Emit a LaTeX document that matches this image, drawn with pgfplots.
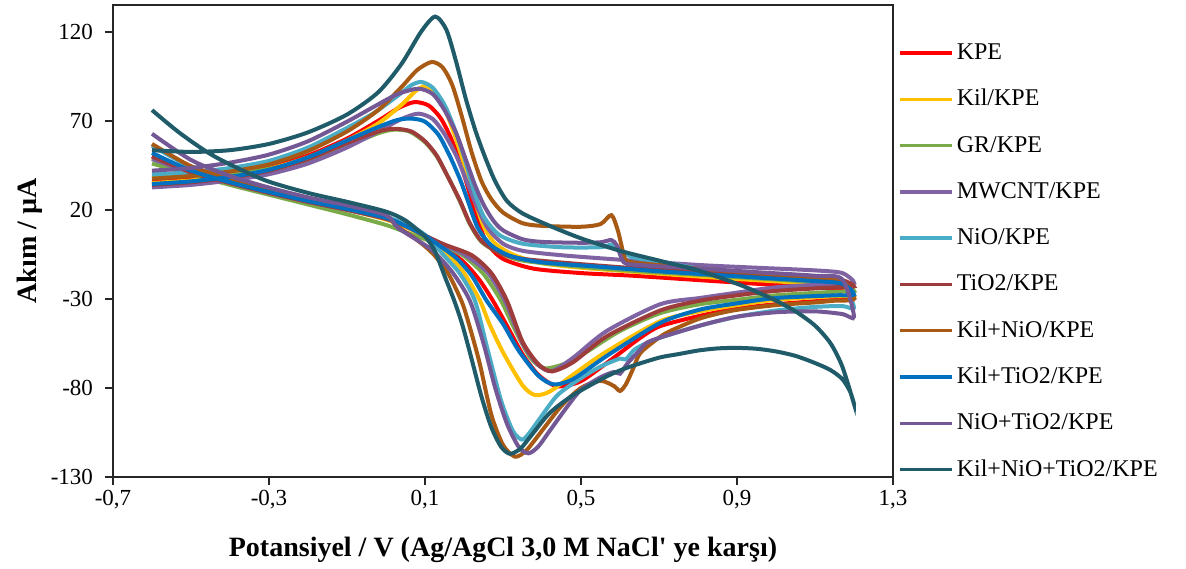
\documentclass[border=0pt]{standalone}
\usepackage{fontspec}
\setmainfont{Liberation Serif}
\usepackage{pgfplots}
\pgfplotsset{compat=1.18}
\definecolor{cKPE}{HTML}{FF0000}
\definecolor{cKil}{HTML}{FFC000}
\definecolor{cGR}{HTML}{7AAB48}
\definecolor{cMW}{HTML}{7F63A2}
\definecolor{cNiO}{HTML}{4BACC6}
\definecolor{cTiO}{HTML}{9E3B3B}
\definecolor{cKN}{HTML}{A85A15}
\definecolor{cKT}{HTML}{0070C0}
\definecolor{cNT}{HTML}{735895}
\definecolor{cKNT}{HTML}{1F5B69}
\begin{document}
\begin{tikzpicture}
\path[use as bounding box] (-56.5pt,-45.5pt) rectangle (536.5pt,238.5pt);
\begin{axis}[
  scale only axis, width=390pt, height=236pt,
  xmin=-0.7, xmax=1.3, ymin=-130, ymax=135,
  xtick={-0.7,-0.3,0.1,0.5,0.9,1.3},
  xticklabels={{-0,7},{-0,3},{0,1},{0,5},{0,9},{1,3}},
  ytick={-130,-80,-30,20,70,120},
  yticklabels={-130,-80,-30,20,70,120},
  tick align=outside, tick pos=left,
  major tick length=4pt,
  axis line style={black!85, line width=0.8pt},
  every tick/.style={black!85, line width=0.8pt},
  tick label style={font=\fontsize{11.5}{13}\selectfont},
  xticklabel style={yshift=1pt},
  yticklabel style={xshift=-2.5pt},
  every axis y label/.style={at={(axis description cs:-0.107,0.5)}, rotate=90, anchor=center},
  every axis x label/.style={at={(axis description cs:0.5,0)}, anchor=center, yshift=-36.5pt},
  label style={font=\fontsize{14}{16}\selectfont\bfseries},
  xlabel={Potansiyel / V (Ag/AgCl 3,0 M NaCl\textquotesingle\ ye karşı)},
  ylabel={Akım / µA},
  legend style={at={(1.0064,0.9216)}, anchor=north west, draw=none, fill=none, inner sep=0pt,
    font=\fontsize{12}{14}\selectfont, row sep=12.65pt,
    nodes={inner sep=0pt, text height=8.5pt, text depth=2pt}},
  legend cell align=left,
  legend image code/.code={\draw[#1, line width=1.7pt] (0pt,0pt) -- (26pt,0pt);},
  /tikz/every odd column/.append style={column sep=1.5pt},
  every axis plot/.append style={line width=2pt, smooth, tension=0.45},
]
% KPE
\addplot[cKPE] coordinates {
(-0.6,36) (-0.5,37.5) (-0.4,40) (-0.3,44) (-0.2,50.5) (-0.1,60) (-0.02,70) (0.035,77.5) (0.074,80.5) (0.11,78.5) (0.14,71.5) (0.165,61) (0.19,47) (0.212,31) (0.235,14) (0.26,1) (0.3,-7.5) (0.378,-13) (0.5,-15.5) (0.633,-17) (0.805,-19.5) (0.95,-21.5) (1.1,-23.5) (1.17,-25) (1.2,-29.5)
(1.15,-30.5) (1.0,-33) (0.9,-35.5) (0.805,-39.5) (0.703,-45.3) (0.651,-52) (0.566,-66) (0.497,-76.5) (0.437,-79) (0.39,-72.5) (0.35,-61) (0.31,-45) (0.274,-31) (0.24,-19.5) (0.2,-9.5) (0.15,-1) (0.1,5.5) (0.05,10.5) (0,15) (-0.1,20.5) (-0.2,25) (-0.3,30) (-0.4,35.5) (-0.5,42) (-0.6,50)};
\addlegendentry{KPE}
% Kil
\addplot[cKil] coordinates {
(-0.6,35) (-0.5,36.5) (-0.4,39) (-0.3,43) (-0.2,49.5) (-0.1,59) (-0.02,68.5) (0.04,79) (0.075,86.5) (0.1,89.5) (0.125,86.5) (0.15,77) (0.172,64.5) (0.194,50) (0.212,37) (0.228,25) (0.25,11) (0.28,1) (0.33,-5.5) (0.4,-10) (0.5,-12.5) (0.65,-15) (0.805,-17.5) (0.95,-19.5) (1.1,-21.5) (1.17,-23) (1.2,-28)
(1.15,-28.5) (1.0,-30.5) (0.9,-33.5) (0.805,-37) (0.703,-42.5) (0.566,-59.5) (0.48,-72.5) (0.42,-82) (0.382,-84) (0.35,-78.5) (0.3,-60) (0.265,-44) (0.241,-31) (0.2,-15.5) (0.15,-3) (0.1,5) (0.05,10.5) (0,14.5) (-0.1,20) (-0.2,24.5) (-0.3,29.5) (-0.4,35) (-0.5,41.5) (-0.6,49)};
\addlegendentry{Kil/KPE}
% GR
\addplot[cGR] coordinates {
(-0.6,39.5) (-0.5,39.5) (-0.4,40.5) (-0.3,43) (-0.2,48) (-0.1,56) (-0.02,63) (0.02,65) (0.06,64) (0.1,58) (0.13,50) (0.16,38) (0.19,24.5) (0.215,12) (0.245,2) (0.29,-4) (0.35,-8.5) (0.5,-12) (0.65,-14.5) (0.805,-16.5) (0.95,-18.5) (1.1,-20.5) (1.17,-22) (1.2,-25.5)
(1.15,-26) (1.0,-28) (0.9,-30.5) (0.805,-33) (0.703,-38) (0.6,-48) (0.52,-59) (0.47,-65.5) (0.408,-69) (0.37,-63) (0.33,-47) (0.295,-31) (0.25,-16) (0.2,-6) (0.15,-0.5) (0.1,3.5) (0.05,7.5) (0,11.5) (-0.1,17.5) (-0.2,23) (-0.3,28.5) (-0.4,34) (-0.5,40) (-0.6,46)};
\addlegendentry{GR/KPE}
% MWCNT
\addplot[cMW] coordinates {
(-0.6,32.6) (-0.5,34) (-0.4,36.5) (-0.3,40) (-0.2,46) (-0.1,55) (-0.02,64) (0.04,71) (0.083,74) (0.12,71) (0.15,62.5) (0.181,50) (0.205,37) (0.23,23.5) (0.26,10) (0.3,1) (0.35,-3) (0.45,-5.5) (0.6,-8) (0.805,-11) (0.95,-12.5) (1.1,-14) (1.17,-15.5) (1.2,-21)
(1.15,-21.5) (1.0,-23.5) (0.9,-26.5) (0.805,-29.5) (0.703,-33) (0.566,-48) (0.48,-63) (0.425,-70.5) (0.39,-67) (0.35,-55) (0.305,-31) (0.26,-15) (0.2,-5) (0.15,0) (0.1,5.5) (0.05,11) (0,15) (-0.1,20) (-0.2,24.5) (-0.3,29.5) (-0.4,35) (-0.5,41) (-0.6,48.5)};
\addlegendentry{MWCNT/KPE}
% NiO
\addplot[cNiO] coordinates {
(-0.6,40) (-0.5,41) (-0.4,43.5) (-0.3,47.5) (-0.2,55) (-0.1,66) (-0.03,74.5) (0.03,84) (0.065,90) (0.091,91.8) (0.12,88.5) (0.15,79) (0.175,66) (0.2,50) (0.225,31) (0.25,16.5) (0.29,6) (0.35,1) (0.45,-1) (0.55,-1) (0.578,0.5) (0.6,-2) (0.63,-6.5) (0.7,-9) (0.805,-13) (0.95,-16) (1.1,-19) (1.17,-21) (1.2,-35)
(1.17,-34) (1.1,-34.5) (1.0,-36.5) (0.9,-40) (0.805,-45) (0.7,-52) (0.64,-58) (0.615,-64) (0.6,-63.5) (0.55,-68) (0.5,-74.5) (0.44,-84) (0.395,-97) (0.365,-106) (0.348,-109) (0.325,-104) (0.295,-87) (0.26,-58) (0.228,-31) (0.19,-16) (0.15,-6) (0.1,6) (0.05,12) (0,16) (-0.1,21.5) (-0.2,26) (-0.3,31) (-0.4,37) (-0.5,44) (-0.6,56)};
\addlegendentry{NiO/KPE}
% TiO2
\addplot[cTiO] coordinates {
(-0.6,34) (-0.5,35.5) (-0.4,38) (-0.3,42) (-0.2,48.5) (-0.1,57.5) (-0.02,64) (0.023,65.5) (0.065,64) (0.1,58.5) (0.13,50.5) (0.16,38) (0.19,25) (0.215,12.5) (0.245,2.5) (0.29,-4) (0.35,-7.5) (0.5,-10.5) (0.65,-13) (0.805,-15) (0.95,-17) (1.1,-18.5) (1.17,-19.5) (1.2,-23)
(1.15,-23.5) (1.0,-25.5) (0.9,-28) (0.805,-31) (0.703,-36.5) (0.566,-51) (0.48,-65.5) (0.425,-70.7) (0.39,-66.5) (0.35,-54) (0.31,-31) (0.27,-15.5) (0.22,-5.5) (0.15,0.5) (0.1,5.5) (0.05,11) (0,15) (-0.1,20) (-0.2,24.5) (-0.3,29.5) (-0.4,35) (-0.5,41) (-0.6,50)};
\addlegendentry{TiO2/KPE}
% Kil+NiO
\addplot[cKN] coordinates {
(-0.6,37.5) (-0.5,39) (-0.4,41.5) (-0.3,45.5) (-0.2,53) (-0.1,64) (-0.02,76) (0.04,89) (0.08,98.5) (0.117,103) (0.145,100) (0.17,90) (0.195,72) (0.22,52) (0.245,36) (0.27,26) (0.3,18.5) (0.35,12.5) (0.4,11) (0.5,10.5) (0.55,12) (0.578,17) (0.595,8) (0.613,-7.5) (0.633,-9.5) (0.7,-11) (0.805,-13) (0.95,-15.5) (1.1,-18) (1.17,-20) (1.2,-30)
(1.15,-31) (1.1,-32) (1.0,-33.5) (0.89,-36.5) (0.805,-41) (0.72,-49) (0.677,-55.6) (0.65,-61) (0.634,-69) (0.615,-78) (0.6,-81.7) (0.585,-79) (0.55,-76) (0.5,-80) (0.45,-90) (0.4,-104) (0.36,-115) (0.331,-118.6) (0.3,-112) (0.27,-95) (0.24,-66) (0.215,-46) (0.195,-32) (0.16,-16) (0.12,-4.5) (0.08,3) (0.03,10.5) (0,16) (-0.1,22) (-0.2,26.5) (-0.3,31.5) (-0.4,37.5) (-0.5,44.5) (-0.6,57)};
\addlegendentry{Kil+NiO/KPE}
% Kil+TiO2
\addplot[cKT] coordinates {
(-0.6,34.5) (-0.5,36) (-0.4,38.5) (-0.3,42.5) (-0.2,49.5) (-0.1,59) (-0.02,66.5) (0.03,70.5) (0.066,71.2) (0.1,69.5) (0.135,62) (0.164,50) (0.19,37) (0.21,25) (0.235,10) (0.27,0) (0.32,-6) (0.4,-9.5) (0.55,-12) (0.7,-14.5) (0.805,-16) (0.95,-18) (1.1,-20) (1.17,-21.5) (1.2,-27.6)
(1.15,-28) (1.0,-29.5) (0.9,-32.5) (0.805,-36) (0.703,-43.5) (0.566,-62) (0.48,-75) (0.43,-78) (0.39,-73) (0.34,-59) (0.3,-44) (0.258,-31) (0.22,-17) (0.18,-7) (0.13,1) (0.1,5.5) (0.05,11) (0,15.5) (-0.1,20.5) (-0.2,25) (-0.3,30) (-0.4,35.5) (-0.5,42) (-0.6,52)};
\addlegendentry{Kil+TiO2/KPE}
% NiO+TiO2
\addplot[cNT] coordinates {
(-0.6,42) (-0.5,43.5) (-0.4,46.5) (-0.3,51) (-0.2,58.5) (-0.1,69.5) (-0.03,78) (0.03,85) (0.083,88) (0.12,85) (0.15,76) (0.18,63) (0.205,48) (0.228,34) (0.25,23) (0.275,14) (0.3,8.5) (0.35,3.5) (0.4,2) (0.5,1.5) (0.55,1.8) (0.578,3) (0.592,0) (0.61,-9.5) (0.65,-11) (0.805,-13) (0.95,-15) (1.1,-17) (1.17,-19) (1.2,-40)
(1.17,-38.5) (1.1,-37) (1.0,-37.5) (0.9,-40) (0.805,-45) (0.677,-53.7) (0.65,-59) (0.62,-66) (0.6,-72) (0.585,-71) (0.55,-74) (0.5,-81) (0.463,-91) (0.42,-104) (0.39,-113) (0.365,-116.7) (0.34,-113) (0.31,-100) (0.28,-80) (0.25,-55) (0.215,-31) (0.17,-15) (0.12,-3) (0.08,3) (0.03,10) (0,17) (-0.1,22.5) (-0.2,27) (-0.3,32.5) (-0.4,39) (-0.5,48) (-0.6,62.7)};
\addlegendentry{NiO+TiO2/KPE}
% Kil+NiO+TiO2
\addplot[cKNT] coordinates {
(-0.6,53.5) (-0.5,52.5) (-0.4,53.5) (-0.3,57) (-0.2,63.5) (-0.1,73.5) (-0.02,86) (0.04,102) (0.09,120) (0.126,128.5) (0.155,121) (0.18,103) (0.205,82) (0.23,64) (0.255,49) (0.28,36) (0.31,25) (0.35,18) (0.42,11) (0.5,4) (0.6,-3) (0.7,-8.5) (0.8,-14) (0.9,-21.5) (0.95,-26) (1.0,-31) (1.05,-37) (1.1,-45) (1.14,-55) (1.17,-68) (1.2,-89)
(1.19,-82) (1.17,-75) (1.14,-70) (1.1,-66) (1.05,-62) (1.0,-59.5) (0.95,-58) (0.9,-57.5) (0.85,-57.8) (0.8,-59) (0.75,-61) (0.7,-63) (0.62,-68.5) (0.566,-73.5) (0.48,-84) (0.42,-94) (0.375,-106) (0.345,-114) (0.318,-117) (0.295,-113) (0.27,-102) (0.245,-85) (0.215,-60) (0.195,-44) (0.175,-31) (0.15,-17) (0.125,-3) (0.1,5) (0.05,14) (0,19) (-0.1,24.5) (-0.2,29.5) (-0.315,37) (-0.44,50) (-0.528,63) (-0.6,76)};
\addlegendentry{Kil+NiO+TiO2/KPE}
\end{axis}
\end{tikzpicture}
\end{document}
